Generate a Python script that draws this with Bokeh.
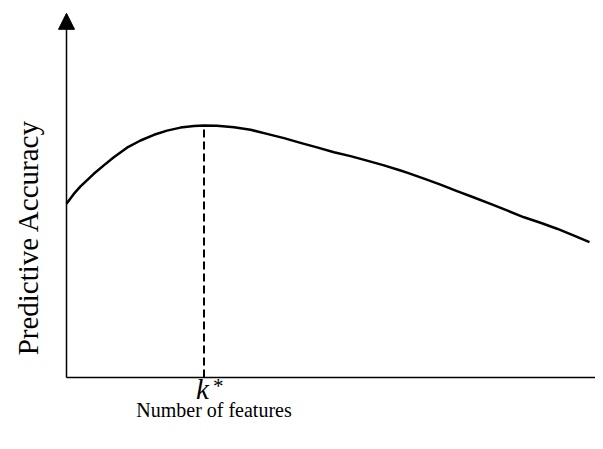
import math
from bokeh.plotting import figure
from bokeh.models import Range1d, Arrow, NormalHead, Label
from bokeh.embed import file_html
from bokeh.resources import INLINE

# Curve data (number of features vs predictive accuracy)
features = [0, 1.46, 2.8, 5.46, 7.46, 9.46, 12.1, 14.8, 17.5, 20.1, 22.8, 25.5, 27.5,
            30.1, 33.5, 36.8, 40.1, 43.5, 46.8, 50.1, 53.5, 56.8, 60.1, 63.5, 66.8,
            68.1, 71.5, 74.8, 78.1, 81.5, 84.8, 88.1, 91.5, 94.8, 98.1, 101.5, 104.6]
accuracy = [57.9, 61.2, 63.7, 67.9, 70.7, 73.4, 76.6, 79.0, 80.9, 82.3, 83.3, 83.8, 84.0,
            83.9, 83.4, 82.6, 81.2, 79.8, 78.2, 76.7, 75.1, 73.8, 72.3, 70.7, 69.0,
            68.3, 66.3, 64.3, 62.1, 60.0, 57.9, 55.7, 53.4, 51.6, 49.6, 47.3, 45.1]
k_star = 27.5
k_star_acc = 84.0
x_arrow_end = 109.2
y_arrow_end = 121.4

x_title = "Number of features"
y_title = "Predictive Accuracy"

p = figure(width=595, height=441, output_backend="svg", toolbar_location=None,
           x_range=Range1d(-13.2, 105.8), y_range=Range1d(-21.333, 125.667),
           min_border=0, min_border_left=0, min_border_right=0,
           min_border_top=0, min_border_bottom=0)
p.xaxis.visible = False
p.yaxis.visible = False
p.xgrid.visible = False
p.ygrid.visible = False
p.outline_line_color = None
p.background_fill_color = "white"
p.border_fill_color = "white"

# axes with arrows
p.add_layout(Arrow(end=NormalHead(size=16, fill_color="black", line_color="black", line_width=1),
                   x_start=0, y_start=0, x_end=0, y_end=y_arrow_end,
                   line_color="black", line_width=1.5))
p.add_layout(Arrow(end=NormalHead(size=16, fill_color="black", line_color="black", line_width=1),
                   x_start=0, y_start=0, x_end=x_arrow_end, y_end=0,
                   line_color="black", line_width=1.5))

# curve
p.line(features, accuracy, line_color="black", line_width=2.5, line_join="round")

# dashed line at k*
p.segment(x0=[k_star], y0=[0], x1=[k_star], y1=[k_star_acc],
          line_color="black", line_width=2, line_dash="8 4")

font = "Liberation Serif"
p.add_layout(Label(x=k_star, y=1.6, text="k", text_font=font, text_font_style="italic",
                   text_font_size="29px", text_color="black",
                   text_align="left", text_baseline="top", x_offset=-8))
p.add_layout(Label(x=k_star, y=1.3, text="*", text_font=font,
                   text_font_size="21px", text_color="black",
                   text_align="left", text_baseline="top", x_offset=9))
p.add_layout(Label(x=k_star, y=-7.3, text=x_title, text_font=font,
                   text_font_size="20px", text_color="black",
                   text_align="center", text_baseline="top", x_offset=10))
p.add_layout(Label(x=-7.8, y=46.7, text=y_title, text_font=font,
                   text_font_size="29px", text_color="black",
                   text_align="center", text_baseline="middle",
                   angle=math.pi / 2))

open("out.html", "w").write(file_html(p, INLINE))
